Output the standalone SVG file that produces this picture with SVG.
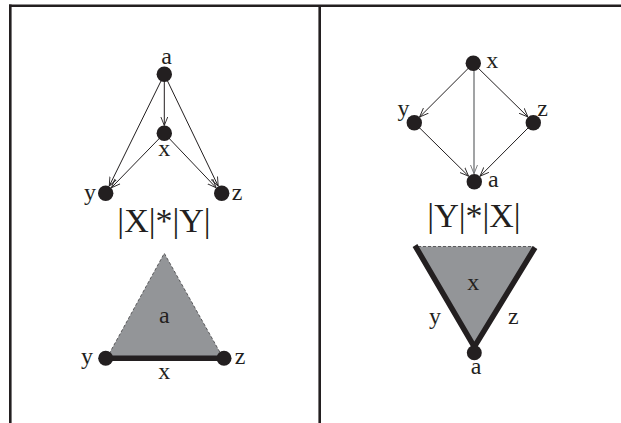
<svg xmlns="http://www.w3.org/2000/svg" width="621" height="423" viewBox="0 0 621 423">
<style>
.frame{stroke:#231f20;stroke-width:2.6;fill:none}
.node{fill:#231f20}
.lbl{font-family:"Liberation Serif","Times New Roman",serif;font-size:24px;fill:#231f20;text-anchor:middle}
.big{font-family:"Liberation Serif","Times New Roman",serif;font-size:34px;fill:#231f20;text-anchor:middle}
.edge{stroke:#231f20;stroke-width:1;fill:none;marker-end:url(#arr)}
.gedge{stroke:#8a8c8e;stroke-width:1.6;fill:none;marker-end:url(#garr)}
.thick{stroke:#231f20;stroke-width:5.5;stroke-linecap:butt;fill:none}
.face{fill:#939598}
.dash{stroke:#4d4d4f;stroke-width:0.9;stroke-dasharray:3,2;fill:none}
</style>
<defs>
<marker id="arr" viewBox="0 0 10 10" refX="10" refY="5" markerWidth="9" markerHeight="9" markerUnits="userSpaceOnUse" orient="auto">
<path d="M0,1 L10,5 L0,9" fill="none" stroke="#231f20" stroke-width="1"/>
</marker>
<marker id="garr" viewBox="0 0 10 10" refX="10" refY="5" markerWidth="9" markerHeight="9" markerUnits="userSpaceOnUse" orient="auto">
<path d="M0,1 L10,5 L0,9" fill="none" stroke="#6d6e71" stroke-width="1"/>
</marker>
</defs>
<g id="frame">
<line class="frame" x1="9" y1="5.7" x2="621" y2="5.7"/>
<line class="frame" x1="10.3" y1="4.4" x2="10.3" y2="423"/>
<line class="frame" x1="319.7" y1="5.7" x2="319.7" y2="423"/>
</g>
<g id="connectors">
<line class="edge" x1="164.3" y1="74.3" x2="164.3" y2="125.5"/>
<line class="edge" x1="164.3" y1="74.3" x2="109.2" y2="186.1"/>
<line class="edge" x1="164.3" y1="74.3" x2="218.2" y2="186.1"/>
<line class="edge" x1="164.3" y1="133.3" x2="111.3" y2="187.8"/>
<line class="edge" x1="164.3" y1="133.3" x2="216.2" y2="187.8"/>
<line class="edge" x1="473.3" y1="63.3" x2="419.6" y2="117"/>
<line class="edge" x1="473.3" y1="63.3" x2="528" y2="117"/>
<line class="edge" x1="414.3" y1="122.7" x2="468.6" y2="176.2"/>
<line class="edge" x1="533.3" y1="122.7" x2="480" y2="176.2"/>
<line class="gedge" x1="474" y1="63.3" x2="474" y2="173.7"/>
</g>
<g id="node-left-a"><circle class="node" cx="164.3" cy="74.3" r="7.7"/><text class="lbl" x="166.5" y="64">a</text></g>
<g id="node-left-x"><circle class="node" cx="164.3" cy="133.3" r="7.7"/><text class="lbl" x="164.3" y="155.5">x</text></g>
<g id="node-left-y"><circle class="node" cx="105.7" cy="193.3" r="7.7"/><text class="lbl" x="90" y="200">y</text></g>
<g id="node-left-z"><circle class="node" cx="221.7" cy="193.3" r="7.7"/><text class="lbl" x="237" y="200">z</text></g>
<g id="label-left"><text class="big" x="164" y="231.7">|X|*|Y|</text></g>
<g id="node-right-x"><circle class="node" cx="473.3" cy="63.3" r="7.7"/><text class="lbl" x="492.3" y="68">x</text></g>
<g id="node-right-y"><circle class="node" cx="414.3" cy="122.7" r="7.7"/><text class="lbl" x="403.5" y="116">y</text></g>
<g id="node-right-z"><circle class="node" cx="533.3" cy="122.7" r="7.7"/><text class="lbl" x="542.5" y="116">z</text></g>
<g id="node-right-a"><circle class="node" cx="474.3" cy="181.7" r="7.7"/><text class="lbl" x="493.3" y="187">a</text></g>
<g id="label-right"><text class="big" x="474" y="226.7">|Y|*|X|</text></g>
<g id="complex-left">
<polygon class="face" points="164.3,253.3 106.7,358.3 223.3,358.3"/>
<polyline class="dash" points="106.7,358.3 164.3,253.3 223.3,358.3"/>
<line class="thick" x1="105.7" y1="358.3" x2="224" y2="358.3"/>
<circle class="node" cx="105.7" cy="358.3" r="7.5"/>
<circle class="node" cx="224" cy="358.3" r="7.5"/>
<text class="lbl" x="164.3" y="323">a</text>
<text class="lbl" x="87" y="364">y</text>
<text class="lbl" x="240" y="364">z</text>
<text class="lbl" x="164.3" y="379">x</text>
</g>
<g id="complex-right">
<polygon class="face" points="416,246.5 534.5,246.5 474.3,347"/>
<line class="dash" x1="418" y1="246.5" x2="533" y2="246.5"/>
<polyline class="thick" points="415,245.5 474.3,347 535,247.5" stroke-linejoin="miter"/>
<circle class="node" cx="474.3" cy="352.7" r="7.5"/>
<text class="lbl" x="473.3" y="290">x</text>
<text class="lbl" x="435" y="324">y</text>
<text class="lbl" x="513.3" y="324">z</text>
<text class="lbl" x="476" y="373.5">a</text>
</g>
</svg>
